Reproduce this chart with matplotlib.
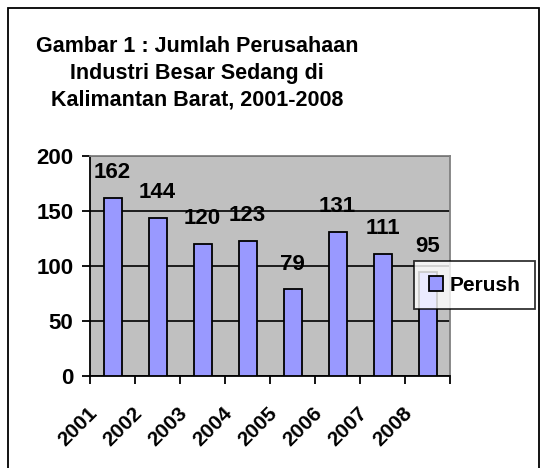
import matplotlib.pyplot as plt
from matplotlib.patches import Rectangle
from matplotlib.transforms import ScaledTranslation

plt.rcParams['font.family'] = ['Liberation Sans', 'DejaVu Sans']
plt.rcParams['font.weight'] = 'bold'

years = ['2001', '2002', '2003', '2004', '2005', '2006', '2007', '2008']
perush = [162, 144, 120, 123, 79, 131, 111, 95]

W, H = 542, 468
fig = plt.figure(figsize=(W / 100, H / 100), dpi=100)

# outer frame of the chart
fig.patches.append(Rectangle((8 / W, -0.02), (531 / W), (H - 8) / H + 0.02,
                             transform=fig.transFigure, fill=False,
                             edgecolor='black', linewidth=1.3))

fig.text(197 / W, 1 - 73 / H,
         "Gambar 1 : Jumlah Perusahaan\nIndustri Besar Sedang di\nKalimantan Barat, 2001-2008",
         ha='center', va='center', fontsize=15.5, fontweight='bold', linespacing=1.37)

ax = fig.add_axes([90 / W, (H - 376) / H, 360 / W, 220 / H])
ax.set_facecolor('#C0C0C0')

pos = [i + 0.5 for i in range(len(years))]
bars = ax.bar(pos, perush, width=0.4, color='#9999FF', edgecolor='black',
              linewidth=1.3, label='Perush', zorder=3)

for x, v in zip(pos, perush):
    ax.annotate(str(v), (x, v), xytext=(0, 18), textcoords='offset points',
                ha='center', va='center', fontsize=16, fontweight='bold', zorder=4)

ax.set_xlim(0, len(years))
ax.set_ylim(0, 200)
ax.set_yticks([0, 50, 100, 150, 200])
ax.tick_params(axis='y', length=6, width=1.3, pad=6, labelsize=16)
ax.yaxis.grid(True, color='black', linewidth=1.2, zorder=1)
ax.set_axisbelow(True)

ax.set_xticks(range(len(years) + 1))
ax.set_xticklabels([])
ax.tick_params(axis='x', which='major', length=6, width=1.3)
ax.set_xticks(pos, minor=True)
ax.set_xticklabels(years, minor=True, rotation=45, ha='right',
                   rotation_mode='anchor', fontsize=15, fontweight='bold')
ax.tick_params(axis='x', which='minor', length=0, pad=20)
shift = ScaledTranslation(-25 / 100, 0, fig.dpi_scale_trans)
for lbl in ax.get_xticklabels(minor=True):
    lbl.set_transform(lbl.get_transform() + shift)

for s in ['left', 'bottom']:
    ax.spines[s].set_linewidth(1.3)
for s in ['top', 'right']:
    ax.spines[s].set_color('#808080')
    ax.spines[s].set_linewidth(1.3)

leg = ax.legend(loc='upper left', bbox_to_anchor=((414 - 90) / 360, 1 - (261 - 156) / 220),
                frameon=True, fancybox=False, fontsize=15, handlelength=0.7,
                handleheight=0.7, borderpad=0.7, handletextpad=0.3,
                borderaxespad=0)
leg.get_frame().set_edgecolor('black')
leg.get_frame().set_linewidth(1.3)
leg.set_zorder(5)
for t in leg.get_texts():
    t.set_fontweight('bold')

fig.savefig('out.png', dpi=100)
